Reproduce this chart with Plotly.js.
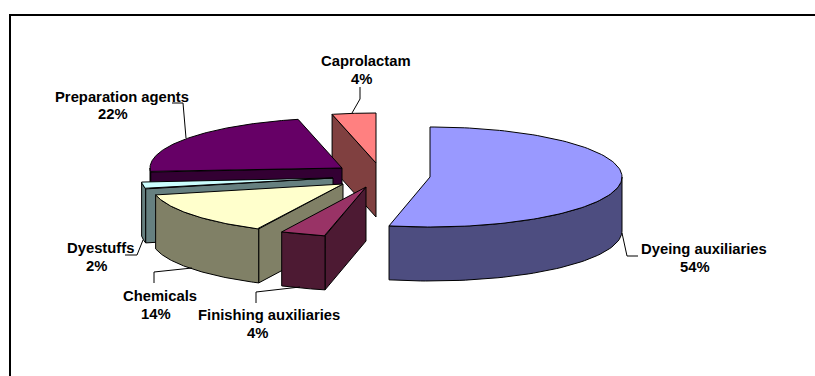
<!DOCTYPE html>
<html>
<head>
<meta charset="utf-8">
<script src="https://cdn.plot.ly/plotly-3.0.1.min.js"></script>
<style>html,body{margin:0;padding:0;background:#fff}#chart{width:815px;height:376px}</style>
</head>
<body>
<div id="chart"></div>
<script>
// Data
var categories = ["Dyeing auxiliaries", "Finishing auxiliaries", "Chemicals", "Dyestuffs", "Preparation agents", "Caprolactam"];
var shares = [54, 4, 14, 2, 22, 4];

// Style
var topColors  = ["#9999FF", "#993366", "#FFFFCC", "#CCFFFF", "#660066", "#FF8080"];
var sideColors = ["#4D4D80", "#4D1A33", "#808066", "#668080", "#330033", "#804040"];

// Layout of the exploded pie, in axis units
var centreX = [430, 366, 343, 333, 342, 376];
var centreY = [177, 187, 184, 178, 168, 163];
var radiusX = 192, radiusY = 50, depth = 54;
var paintOrder = [5, 4, 3, 2, 1, 0];

// Labels: name anchor, percent anchor, leader polyline
var nameX = [704, 269, 160, 100, 122, 366];
var nameY = [249, 315, 296, 248, 97, 61];
var pctX  = [695, 257, 156, 96, 113, 361];
var pctY  = [267, 333, 314, 266, 114, 79];
var leaderX = [[638,627,622],[256,256,300],[154,154,192],[125,137,143],[172,183,186],[360,360,352]];
var leaderY = [[256,256,233],[303,292,287],[283,272,268],[255,255,240],[103,103,138],[87,99,113]];

var traces = [];
var RAD = Math.PI / 180;
// slight perspective correction of the projected angle
function warp(t) {
  var s = Math.sin(2 * t * RAD);
  var c = (t >= 180 && t < 270) ? 3 : 1.7;
  return t - c * (s < 0 ? -1 : 1) * Math.sqrt(Math.abs(s));
}
function px(i, t) { return centreX[i] + radiusX * Math.sin(warp(t) * RAD); }
function py(i, t) { return centreY[i] - radiusY * Math.cos(warp(t) * RAD); }
function face(xs, ys, color) {
  traces.push({type: "scatter", mode: "lines", x: xs.concat(xs[0]), y: ys.concat(ys[0]), fill: "toself",
    fillcolor: color, line: {color: "#000", width: 1}, hoverinfo: "skip", showlegend: false});
}
var total = shares.reduce(function (a, b) { return a + b; }, 0);
var starts = [], run = 0;
shares.forEach(function (v) { starts.push(run); run += v / total * 360; });

paintOrder.forEach(function (i) {
  var s = starts[i], e = s + shares[i] / total * 360;
  var cx = centreX[i], cy = centreY[i];
  // radial cut face at the slice start, when it faces the viewer
  if (Math.sin(s * RAD) < -1e-6) {
    face([px(i, s), cx, cx, px(i, s)], [py(i, s), cy, cy + depth, py(i, s) + depth], sideColors[i]);
  }
  // outer rim, front half only
  var a = Math.max(s, 90), b = Math.min(e, 270);
  if (b > a) {
    var xt = [], yt = [], xb = [], yb = [];
    for (var k = 0; k <= 60; k++) {
      var t = a + (b - a) * k / 60;
      xt.push(px(i, t)); yt.push(py(i, t));
      xb.unshift(px(i, t)); yb.unshift(py(i, t) + depth);
    }
    face(xt.concat(xb), yt.concat(yb), sideColors[i]);
  }
  // top face
  var xs = [cx], ys = [cy];
  for (var n = 0; n <= 120; n++) {
    var u = s + (e - s) * n / 120;
    xs.push(px(i, u)); ys.push(py(i, u));
  }
  face(xs, ys, topColors[i]);
});

leaderX.forEach(function (lx, i) {
  traces.push({type: "scatter", mode: "lines", x: lx, y: leaderY[i], line: {color: "#000", width: 1},
    hoverinfo: "skip", showlegend: false});
});

var font = {family: "Liberation Sans, Arial, sans-serif", size: 14.8, color: "#000"};
var annotations = [];
categories.forEach(function (c, i) {
  annotations.push({xref: "x", yref: "y", x: nameX[i], y: nameY[i], text: "<b>" + c + "</b>", showarrow: false, font: font, xanchor: "center", yanchor: "middle"});
  annotations.push({xref: "x", yref: "y", x: pctX[i], y: pctY[i], text: "<b>" + shares[i] + "%</b>", showarrow: false, font: font, xanchor: "center", yanchor: "middle"});
});

var layout = {
  width: 815, height: 376,
  margin: {l: 0, r: 0, t: 0, b: 0},
  paper_bgcolor: "#fff", plot_bgcolor: "#fff",
  showlegend: false,
  xaxis: {range: [0, 815], visible: false, fixedrange: true},
  yaxis: {range: [376, 0], visible: false, fixedrange: true},
  annotations: annotations,
  shapes: [
    {type: "line", xref: "x", yref: "y", x0: 10, x1: 815, y0: 15, y1: 15, line: {color: "#000", width: 2}},
    {type: "line", xref: "x", yref: "y", x0: 10, x1: 10, y0: 14, y1: 376, line: {color: "#000", width: 2}}
  ]
};
Plotly.newPlot("chart", traces, layout, {displayModeBar: false, staticPlot: true});
</script>
</body>
</html>
